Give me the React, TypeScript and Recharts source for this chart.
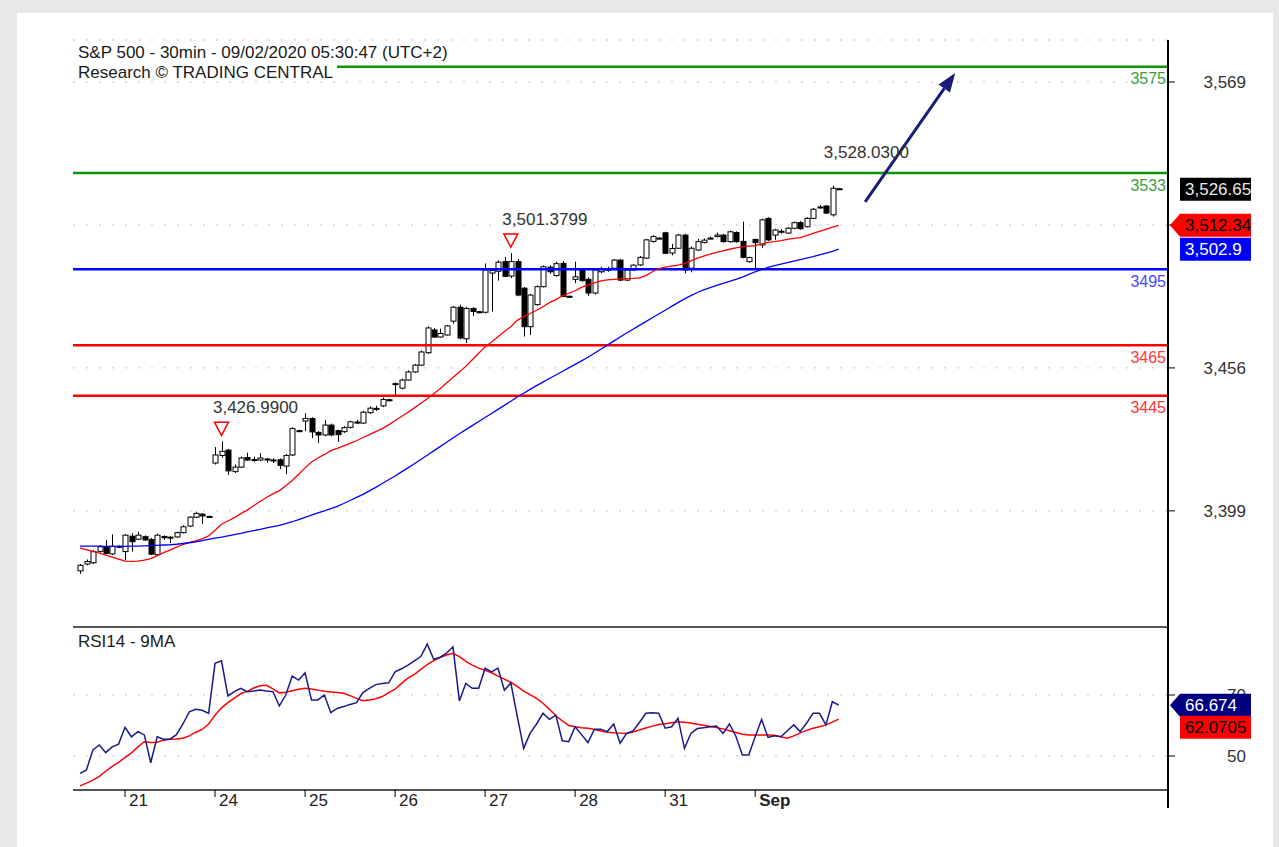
import React from 'react'
import { ComposedChart, Bar, Line, XAxis, YAxis, CartesianGrid, ReferenceLine, ReferenceDot } from 'recharts'

const FONT = '"Liberation Sans", Arial, sans-serif'

// 30min bars, Aug 20 (partial) .. Sep 1, 14 bars a day
const opens = [
  3375.8, 3378.5, 3379, 3383.5, 3385.3, 3382.5, 3385.5,
  3383.4, 3389.5, 3388.3, 3389.3, 3388.2, 3382.2, 3389.4, 3389, 3389.2, 3390.9, 3393.5, 3397, 3398.2, 3397.3,
  3418.4, 3421.4, 3423.5, 3415, 3416.8, 3420.6, 3419.6, 3419.6, 3420, 3419.6, 3419.7, 3417.2, 3421.6, 3431.2,
  3435, 3436, 3430.5, 3429.5, 3433.4, 3431.2, 3430.8, 3432.5, 3434.6, 3434.2, 3438.3, 3440, 3441, 3443.4,
  3449.5, 3448, 3451.2, 3454.4, 3457.1, 3462, 3471, 3468.2, 3469, 3474.5, 3480, 3467.5, 3479.5, 3478.2,
  3478, 3493.5, 3494.2, 3498, 3492.3, 3498, 3487.5, 3472.3, 3481, 3488.1, 3495.8, 3492.5, 3497.3, 3484.3,
  3491, 3494.5, 3491, 3485.6, 3494, 3495, 3495.4, 3498.6, 3490.7, 3494.7, 3496.7, 3499.4, 3506, 3507.3,
  3509.4, 3501.4, 3503.3, 3508.5, 3495.4, 3502.6, 3505.6, 3507, 3507.9, 3508.5, 3505.9, 3509.5, 3506, 3498,
  3506.8, 3504.6, 3515.1, 3508.5, 3509.6, 3509.3, 3511.2, 3513.4, 3511.8, 3515.1, 3519.2, 3520, 3516.5, 3526.8,
]
const highs = [
  3378.5, 3380.3, 3384, 3386, 3388, 3390.2, 3385.8,
  3390.3, 3390.7, 3391.2, 3389.8, 3388.8, 3390.5, 3389.8, 3389.5, 3391.3, 3393.8, 3397.4, 3399.2, 3398.6, 3397.6,
  3424.7, 3426.99, 3424, 3417.8, 3421, 3422.5, 3420.9, 3422.3, 3420.4, 3420.3, 3420.2, 3422, 3432.6, 3431.6,
  3438.1, 3436.5, 3431, 3435.4, 3434, 3431.6, 3433, 3435.2, 3435.5, 3439, 3440.8, 3441, 3444.3, 3443.8,
  3450.2, 3451.8, 3455, 3457.6, 3462.8, 3472.5, 3471.8, 3471.5, 3473, 3480.5, 3481, 3480.2, 3480, 3478.5,
  3497.3, 3495.2, 3498.5, 3499.8, 3501.3799, 3499, 3488, 3485.3, 3488.6, 3496.5, 3496.6, 3498, 3498.2, 3484.6,
  3498, 3495, 3491.8, 3495.3, 3496, 3496, 3499, 3499, 3495.2, 3497, 3500.2, 3507, 3508.5, 3507.6,
  3509.8, 3505, 3509, 3509, 3504, 3507, 3507.2, 3507.9, 3509.5, 3509, 3510.3, 3510, 3513.8, 3500,
  3507, 3515, 3515.5, 3511, 3510.8, 3511.6, 3513.8, 3514, 3515.5, 3519.2, 3520.4, 3520.3, 3528.03, 3527,
]
const lows = [
  3374.6, 3378, 3378.5, 3383, 3382.3, 3382, 3384.8,
  3380, 3383.4, 3388, 3387.6, 3382, 3381.8, 3388, 3386.8, 3388.9, 3390.6, 3393.2, 3396.7, 3394.3, 3397,
  3417.8, 3420.5, 3413.7, 3414.5, 3416.4, 3419.2, 3418.9, 3419.2, 3418.6, 3418.4, 3416, 3414, 3421.2, 3430.6,
  3431, 3428.3, 3426.3, 3429, 3429, 3426.8, 3430.3, 3432, 3433.8, 3433.8, 3437.8, 3439, 3440.5, 3442.8,
  3445.3, 3447.5, 3451, 3454, 3456.8, 3461.5, 3467.8, 3468, 3468.8, 3473.5, 3467.3, 3465.8, 3476.5, 3477.6,
  3477.5, 3478.3, 3490.5, 3491.8, 3491.5, 3484.3, 3468.4, 3469, 3480.5, 3487.8, 3493.2, 3492, 3484, 3483.8,
  3489.5, 3490, 3484.5, 3485, 3493.5, 3494, 3495, 3490.3, 3490.3, 3494.3, 3496.3, 3499, 3505.5, 3506.9,
  3501, 3500.5, 3503, 3493.4, 3493.8, 3502.2, 3505.2, 3506.8, 3507.6, 3505.5, 3505.5, 3505.5, 3499.3, 3497.6,
  3494.8, 3503.5, 3506.2, 3506.6, 3509, 3509, 3510.8, 3510.6, 3511.5, 3514.8, 3519, 3516.8, 3515.8, 3526.5,
]
const closes = [
  3378, 3379.5, 3383.4, 3385.3, 3382.7, 3385.5, 3385.2,
  3389.9, 3387.3, 3389.9, 3388, 3382.4, 3389.9, 3388.9, 3389.1, 3390.9, 3393.2, 3397, 3398.5, 3397.5, 3397.2,
  3421.6, 3423, 3415.3, 3416.8, 3420.4, 3419.6, 3419.8, 3420.4, 3419.7, 3419.5, 3417.5, 3421.4, 3432, 3431,
  3436, 3430.7, 3429.5, 3433.4, 3429.5, 3429.6, 3432.4, 3434.7, 3434.2, 3438.5, 3440.1, 3439.6, 3443.5, 3443.2,
  3449.8, 3451.2, 3454.4, 3457.1, 3462.3, 3471.8, 3468.2, 3469.6, 3472.6, 3480, 3467.8, 3479.5, 3478.3, 3478,
  3494.7, 3494.5, 3497.8, 3492.2, 3498, 3484.8, 3472.3, 3484.8, 3488.1, 3496, 3494, 3497.2, 3484.2, 3484.2,
  3492, 3490.5, 3485.6, 3494.7, 3495, 3494.8, 3498.6, 3490.7, 3494.7, 3496.6, 3499.7, 3506.6, 3507.9, 3507.1,
  3501.3, 3503.2, 3508.5, 3494.7, 3503.3, 3505.9, 3506.5, 3507.3, 3508.5, 3505.9, 3509.8, 3505.9, 3499.7, 3499.6,
  3505.5, 3514.5, 3506.6, 3510.5, 3510, 3511.2, 3513.4, 3511, 3515.1, 3518.7, 3519.6, 3517.2, 3527, 3526.65,
]
const maFast = [
  3384.8, 3384.2, 3383.5, 3382.8, 3382, 3381.2, 3380.4,
  3379.6, 3379.5, 3379.6, 3380, 3380.6, 3381.8, 3383, 3384, 3385.2, 3386.2, 3387, 3387.6, 3388.4, 3389.6,
  3391.8, 3394.2, 3395.5, 3396.8, 3398.4, 3399.8, 3401.5, 3403.2, 3404.8, 3406.2, 3407.5, 3409.4, 3411.5, 3414,
  3416.5, 3418.8, 3420.4, 3421.8, 3423.3, 3424.2, 3425.2, 3426.2, 3427.2, 3428.5, 3429.6, 3430.8, 3432, 3433.5,
  3435.2, 3436.8, 3438.5, 3440.2, 3442, 3443.8, 3445.8, 3447.8, 3450, 3452.2, 3454.4, 3456.6, 3459.2, 3461.8,
  3464.3, 3466.2, 3468.3, 3470.4, 3472.3, 3474.8, 3476.3, 3477.5, 3478.8, 3480.2, 3481.8, 3483, 3484.5, 3485.5,
  3486.5, 3487.8, 3488.8, 3489.6, 3490.4, 3490.8, 3491, 3491.2, 3491.3, 3491.4, 3491.6, 3492.5, 3494, 3495.2,
  3495.8, 3496.2, 3496.6, 3497.2, 3498.3, 3499.4, 3500.2, 3501, 3501.7, 3502.3, 3502.9, 3503.4, 3503.8, 3504.1,
  3504.3, 3505, 3505.6, 3505.9, 3506.3, 3506.8, 3507.2, 3507.5, 3508.3, 3509.2, 3510, 3510.8, 3511.6, 3512.34,
]
const maSlow = [
  3385.6, 3385.6, 3385.6, 3385.6, 3385.5, 3385.5, 3385.5,
  3385.5, 3385.6, 3385.6, 3385.7, 3385.8, 3385.9, 3386, 3386.1, 3386.3, 3386.6, 3386.9, 3387.3, 3387.7, 3388.2,
  3388.7, 3389.1, 3389.6, 3390.1, 3390.6, 3391.2, 3391.7, 3392.2, 3392.8, 3393.3, 3393.8, 3394.5, 3395.2, 3396,
  3396.9, 3397.8, 3398.7, 3399.5, 3400.4, 3401.3, 3402.4, 3403.6, 3404.8, 3406, 3407.4, 3408.8, 3410.3, 3411.8,
  3413.3, 3414.9, 3416.5, 3418.1, 3419.8, 3421.5, 3423.2, 3424.9, 3426.6, 3428.3, 3430, 3431.6, 3433.2, 3434.8,
  3436.4, 3438, 3439.6, 3441.2, 3442.8, 3444.5, 3446, 3447.5, 3449, 3450.4, 3451.8, 3453.2, 3454.6, 3456,
  3457.4, 3458.8, 3460.2, 3461.8, 3463.4, 3465, 3466.6, 3468.2, 3469.8, 3471.3, 3472.8, 3474.3, 3475.8, 3477.3,
  3478.8, 3480.3, 3481.8, 3483.3, 3484.6, 3485.8, 3486.8, 3487.7, 3488.6, 3489.4, 3490.2, 3491, 3491.9, 3493,
  3494, 3494.9, 3495.7, 3496.4, 3497, 3497.6, 3498.2, 3498.8, 3499.4, 3500, 3500.7, 3501.4, 3502.1, 3502.9,
]
const rsi = [
  44.3, 45.4, 52, 53.6, 51.1, 53, 53.9,
  59.4, 56.3, 58, 56.9, 47.8, 56.3, 55.5, 55.5, 57, 60.5, 64.5, 65.3, 65, 64,
  80.4, 81.2, 69.7, 71.1, 72.2, 71.1, 71.3, 71.6, 71.3, 71.1, 66.4, 70, 76.2, 74.9,
  77.3, 68.4, 68.4, 70, 64.2, 65.6, 66.2, 66.9, 67.5, 70.8, 72.2, 73.4, 73.8, 74,
  77.6, 78.6, 79.8, 81.2, 82.6, 86.7, 81.7, 82.4, 83.7, 85.8, 68.1, 73.8, 72.2, 72.2,
  78.8, 77.6, 78.8, 71.6, 74, 63, 52.5, 57.5, 60.5, 64, 62, 63.4, 55, 54.7,
  59.6, 57, 54.4, 58.8, 58.8, 58, 60.5, 54.2, 57.4, 58.2, 61, 64, 64.2, 64,
  59.1, 59.6, 62.4, 52.5, 57.4, 59, 59.3, 59.6, 59.8, 57.4, 60.5, 56.5, 50.3, 50.3,
  56.3, 62, 56.1, 56.6, 56.3, 58.3, 60.2, 58, 60.8, 64, 64, 60.2, 67.8, 66.674,
]
const rsiMa = [
  40.2, 41.1, 42.1, 43.3, 45, 46.6, 47.9,
  49.5, 51, 53, 54.7, 54.4, 54.5, 55.2, 55.5, 55.6, 55.8, 56.6, 57.8, 58.7, 60.5,
  63.4, 65.8, 67.5, 69, 70.4, 71.2, 72.3, 73, 73.2, 72, 70.7, 70.9, 71.4, 71.9,
  72.2, 72, 71.6, 71.2, 71, 70.8, 70.6, 69.8, 68.9, 68.1, 68.4, 68.8, 69.5, 70.8,
  71.9, 73.8, 75.5, 76.8, 78.4, 80, 81.3, 82.3, 83.1, 83.7, 82.6, 81, 79.8, 78.8,
  78.1, 77.3, 76.2, 75.2, 74.1, 72.8, 71.3, 70.1, 68.9, 67.3, 65.3, 63.2, 61.5, 60,
  59.6, 59.3, 59.1, 58.7, 58.2, 57.8, 57.6, 57.5, 57.4, 57.9, 58.5, 59.2, 59.8, 60.3,
  60.6, 60.9, 61.2, 61.1, 60.8, 60.4, 60.1, 59.7, 59.3, 58.9, 58.3, 57.7, 57.1, 56.9,
  56.9, 56.9, 56.9, 56.8, 56.3, 55.8, 56.6, 57.6, 58.4, 59.1, 59.6, 60.2, 61.1, 62.0705,
]

const dayTicks = [7, 21, 35, 49, 63, 77, 91, 105]
const dayLabels = ['21', '24', '25', '26', '27', '28', '31', 'Sep']
const priceTicks = [3399.5, 3456, 3512.5, 3569]
const rsiTicks = [50, 70]
const levelValues = [3575, 3533, 3495, 3465, 3445]
const levelKinds = ['res', 'res', 'pivot', 'sup', 'sup']
const highMarks = [22, 67] // bars with the red triangle
const lastHighBar = 117
const arrowPts = [
  { x: 122.1, y: 3521.6 },
  { x: 136.1, y: 3572.6 },
]

const xDomain = [-1.09, 169.2]
const priceDomain = [3353.6, 3585.6]
const rsiDomain = [38.85, 92.3]

const levelStyle: Record<string, { line: string; text: string }> = {
  res: { line: '#0a960a', text: '#3ca03c' },
  pivot: { line: '#0000ff', text: '#4848ff' },
  sup: { line: '#ff0000', text: '#ff3838' },
}

const rows = closes.map((c, i) => ({
  i,
  o: opens[i],
  h: highs[i],
  l: lows[i],
  c,
  maFast: maFast[i],
  maSlow: maSlow[i],
  rsi: rsi[i],
  rsiMa: rsiMa[i],
}))
const last = rows[rows.length - 1]

const fmtPrice = (v: number) => Math.floor(v).toLocaleString('en-US')
const fmtDec = (v: number, d: number) =>
  v.toLocaleString('en-US', { minimumFractionDigits: d, maximumFractionDigits: d })

function Candle(props: any) {
  const { x, y, width, height, payload } = props
  if (!payload) return null
  const { o, h, l, c } = payload
  const top = Math.min(y, y + height)
  const span = Math.abs(height)
  const k = h > l ? span / (h - l) : 0
  const py = (v: number) => top + (h - v) * k
  const cx = Math.round(x + width / 2) + 0.5
  const bTop = py(Math.max(o, c))
  const bBot = py(Math.min(o, c))
  return (
    <g>
      <line x1={cx} x2={cx} y1={top} y2={top + span} stroke="#000" strokeWidth={1} />
      <rect
        x={cx - 2.5}
        y={bTop}
        width={5}
        height={Math.max(bBot - bTop, 1)}
        fill={c >= o ? '#fff' : '#000'}
        stroke="#000"
        strokeWidth={1}
      />
    </g>
  )
}

// the 3,512 label sits under the red MA flag, so only its tick mark shows
function PriceTick(p: any) {
  if (p.payload.value === 3512.5) return <g />
  return (
    <text x={p.x + 71} y={p.y + 6} textAnchor="end" fontSize={17} fontFamily={FONT} fill="#333">
      {fmtPrice(p.payload.value)}
    </text>
  )
}

function RsiTick(p: any) {
  return (
    <text x={p.x + 71} y={p.y + 6} textAnchor="end" fontSize={17} fontFamily={FONT} fill="#333">
      {p.payload.value}
    </text>
  )
}

function DayTick(p: any) {
  const label = dayLabels[dayTicks.indexOf(p.payload.value)]
  return (
    <text
      x={p.x + 4}
      y={p.y + 9}
      fontSize={17}
      fontFamily={FONT}
      fill="#222"
      fontWeight={label === 'Sep' ? 'bold' : 'normal'}
    >
      {label}
    </text>
  )
}

// value flag on the right scale
function flag(text: string, bg: string, fg: string, pointed: boolean, dy = 0) {
  return (p: any) => {
    const x = p.cx
    const y = p.cy + dy
    const shapePath = pointed
      ? `M${x + 2},${y} L${x + 12},${y - 11.5} L${x + 83},${y - 11.5} L${x + 83},${y + 11.5} L${x + 12},${y + 11.5} Z`
      : `M${x + 12},${y - 11.5} L${x + 83},${y - 11.5} L${x + 83},${y + 11.5} L${x + 12},${y + 11.5} Z`
    return (
      <g>
        <path d={shapePath} fill={bg} />
        <text x={x + 17} y={y + 6} fontSize={17} fontFamily={FONT} fill={fg}>
          {text}
        </text>
      </g>
    )
  }
}

function levelLabel(text: string, color: string) {
  return (p: any) => (
    <text x={p.cx - 2} y={p.cy + 17.5} textAnchor="end" fontSize={16} fontFamily={FONT} fill={color}>
      {text}
    </text>
  )
}

function highLabel(text: string, triangle: boolean) {
  return (p: any) => (
    <g>
      {triangle && (
        <path
          d={`M${p.cx - 7},${p.cy - 19} L${p.cx + 7},${p.cy - 19} L${p.cx},${p.cy - 6} Z`}
          fill="none"
          stroke="#ff0000"
          strokeWidth={1.5}
        />
      )}
      <text x={p.cx - 8.5} y={p.cy - 28} fontSize={17} fontFamily={FONT} fill="#333">
        {text}
      </text>
    </g>
  )
}

function Arrow(p: any) {
  const { x1, y1, x2, y2 } = p
  const a = Math.atan2(y2 - y1, x2 - x1)
  const len = 19
  const half = 7
  const bx = x2 - len * Math.cos(a)
  const by = y2 - len * Math.sin(a)
  const nx = -Math.sin(a) * half
  const ny = Math.cos(a) * half
  return (
    <g>
      <line x1={x1} y1={y1} x2={bx} y2={by} stroke="#1b1b7c" strokeWidth={3} />
      <path d={`M${x2},${y2} L${bx + nx},${by + ny} L${bx - nx},${by - ny} Z`} fill="#1b1b7c" />
    </g>
  )
}

function PriceChart() {
  return (
    <ComposedChart width={1279} height={640} data={rows} margin={{ top: 40, right: 0, bottom: 13, left: 73 }}>
      <CartesianGrid vertical={false} stroke="#c4c4c4" strokeDasharray="2 11" />
      <XAxis dataKey="i" type="number" domain={xDomain} allowDataOverflow hide />
      <YAxis
        orientation="right"
        width={111}
        domain={priceDomain}
        allowDataOverflow
        ticks={priceTicks}
        interval={0}
        tickSize={7}
        tickMargin={0}
        tickLine={{ stroke: '#000' }}
        axisLine={{ stroke: '#000', strokeWidth: 2 }}
        tick={<PriceTick />}
      />
      {levelValues.map((v, k) => (
        <ReferenceLine key={v} y={v} stroke={levelStyle[levelKinds[k]].line} strokeWidth={2.5} />
      ))}
      <Bar dataKey={(d: any) => [d.l, d.h]} barSize={5} shape={<Candle />} isAnimationActive={false} />
      <Line dataKey="maFast" stroke="#ff0000" strokeWidth={1.3} dot={false} activeDot={false} isAnimationActive={false} />
      <Line dataKey="maSlow" stroke="#0000ff" strokeWidth={1.3} dot={false} activeDot={false} isAnimationActive={false} />
      {levelValues.map((v, k) => (
        <ReferenceDot
          key={'l' + v}
          x={xDomain[1]}
          y={v}
          ifOverflow="visible"
          shape={levelLabel(String(v), levelStyle[levelKinds[k]].text)}
        />
      ))}
      {highMarks.map((b) => (
        <ReferenceDot key={'h' + b} x={b} y={highs[b]} shape={highLabel(fmtDec(highs[b], 4), true)} />
      ))}
      <ReferenceDot x={lastHighBar} y={highs[lastHighBar]} shape={highLabel(fmtDec(highs[lastHighBar], 4), false)} />
      <ReferenceLine segment={arrowPts} shape={Arrow} />
    </ComposedChart>
  )
}

// flags are drawn in a second layer so they sit over the axis labels
function PriceFlags() {
  return (
    <ComposedChart width={1279} height={640} data={rows} margin={{ top: 40, right: 111, bottom: 13, left: 73 }}>
      <XAxis dataKey="i" type="number" domain={xDomain} allowDataOverflow hide />
      <YAxis domain={priceDomain} allowDataOverflow hide />
      <ReferenceDot x={xDomain[1]} y={last.c} ifOverflow="visible" shape={flag(fmtDec(last.c, 2), '#000', '#e8e8e8', false)} />
      <ReferenceDot x={xDomain[1]} y={last.maFast} ifOverflow="visible" shape={flag(fmtDec(last.maFast, 2), '#ff0000', '#000', true)} />
      <ReferenceDot x={xDomain[1]} y={last.maSlow} ifOverflow="visible" shape={flag(fmtDec(last.maSlow, 1), '#0000ff', '#fff', false)} />
    </ComposedChart>
  )
}

function RsiChart() {
  return (
    <ComposedChart width={1279} height={247} data={rows} margin={{ top: 27, right: 0, bottom: 0, left: 73 }}>
      <CartesianGrid vertical={false} stroke="#c4c4c4" strokeDasharray="2 11" />
      <XAxis
        dataKey="i"
        type="number"
        domain={xDomain}
        allowDataOverflow
        ticks={dayTicks}
        interval={0}
        height={57}
        tickSize={7}
        tickMargin={0}
        tickLine={{ stroke: '#000' }}
        axisLine={{ stroke: '#555', strokeWidth: 2 }}
        tick={<DayTick />}
      />
      <YAxis
        orientation="right"
        width={111}
        domain={rsiDomain}
        allowDataOverflow
        ticks={rsiTicks}
        interval={0}
        tickSize={7}
        tickMargin={0}
        tickLine={{ stroke: '#000' }}
        axisLine={{ stroke: '#000', strokeWidth: 2 }}
        tick={<RsiTick />}
      />
      <ReferenceLine y={rsiDomain[1]} stroke="#555" strokeWidth={2} />
      <Line dataKey="rsiMa" stroke="#ff0000" strokeWidth={1.5} dot={false} activeDot={false} isAnimationActive={false} />
      <Line dataKey="rsi" stroke="#1a1a8c" strokeWidth={1.5} dot={false} activeDot={false} isAnimationActive={false} />
    </ComposedChart>
  )
}

function RsiFlags() {
  return (
    <ComposedChart width={1279} height={247} data={rows} margin={{ top: 27, right: 111, bottom: 57, left: 73 }}>
      <XAxis dataKey="i" type="number" domain={xDomain} allowDataOverflow hide />
      <YAxis domain={rsiDomain} allowDataOverflow hide />
      <ReferenceDot x={xDomain[1]} y={last.rsi} ifOverflow="visible" shape={flag(String(last.rsi), '#000080', '#fff', true)} />
      <ReferenceDot x={xDomain[1]} y={last.rsiMa} ifOverflow="visible" shape={flag(fmtDec(last.rsiMa, 4), '#ff0000', '#000', false, 8)} />
    </ComposedChart>
  )
}

const textStyle: React.CSSProperties = {
  position: 'absolute',
  fontFamily: FONT,
  fontSize: 17,
  lineHeight: '17px',
  color: '#1a1a1a',
  whiteSpace: 'nowrap',
}

const layer = (top: number): React.CSSProperties => ({ position: 'absolute', left: 0, top })

export default function App() {
  return (
    <div style={{ position: 'absolute', left: 0, top: 0, width: 1279, height: 847, background: '#e8e8e8', overflow: 'hidden' }}>
      <div style={{ position: 'absolute', left: 17, top: 13, width: 1256, height: 834, background: '#fff' }} />
      <div style={layer(0)}>
        <PriceChart />
      </div>
      <div style={layer(600)}>
        <RsiChart />
      </div>
      <div style={layer(0)}>
        <PriceFlags />
      </div>
      <div style={layer(600)}>
        <RsiFlags />
      </div>
      <div style={{ position: 'absolute', left: 1167, top: 790, width: 2, height: 18, background: '#000' }} />
      <div style={{ ...textStyle, left: 78, top: 43.6 }}>S&amp;P 500 - 30min - 09/02/2020 05:30:47 (UTC+2)</div>
      <div style={{ ...textStyle, left: 73, top: 63.6, paddingLeft: 5, paddingRight: 4, background: '#fff' }}>
        Research © TRADING CENTRAL
      </div>
      <div style={{ ...textStyle, left: 78, top: 632.6 }}>RSI14 - 9MA</div>
    </div>
  )
}
